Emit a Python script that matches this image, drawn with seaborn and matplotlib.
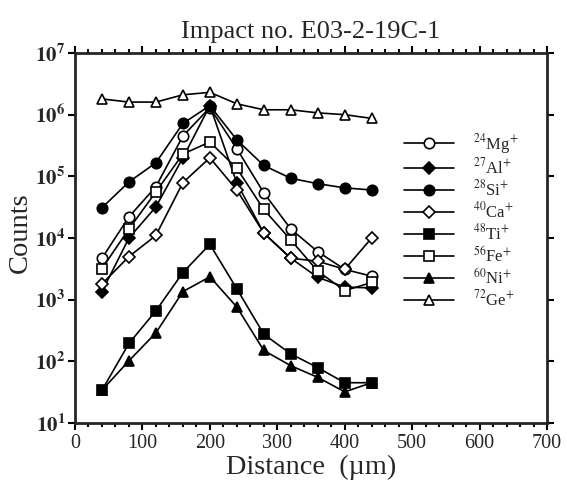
import math
import matplotlib
matplotlib.use("Agg")
import matplotlib.pyplot as plt
import matplotlib.ticker as mticker
import pandas as pd
import seaborn as sns

# distances (um) along the impact
distance = [40, 80, 120, 160, 200, 240, 280, 320, 360, 400, 440]

# counts, one list per ion
mg24 = [4.7e3, 2.2e4, 6.8e4, 4.5e5, 1.3e6, 2.8e5, 5.4e4, 1.4e4, 6.0e3, 3.1e3, 2.4e3]
al27 = [1.35e3, 1.0e4, 3.2e4, 2.0e5, 1.4e6, 7.8e4, 1.2e4, 4.7e3, 2.3e3, 1.6e3, 1.55e3]
si28 = [3.1e4, 8.1e4, 1.66e5, 7.2e5, 1.4e6, 3.9e5, 1.5e5, 9.3e4, 7.6e4, 6.5e4, 6.0e4]
ca40 = [1.8e3, 5.0e3, 1.1e4, 7.9e4, 2.0e5, 6.0e4, 1.2e4, 4.7e3, 4.2e3, 3.1e3, 1.0e4]
ti48 = [34, 195, 660, 2.75e3, 7.9e3, 1.5e3, 275, 132, 79, 45, 45]
fe56 = [3.2e3, 1.4e4, 5.6e4, 2.3e5, 3.6e5, 1.35e5, 2.9e4, 9.3e3, 2.9e3, 1.4e3, 1.9e3]
ni60 = [34, 102, 290, 1.35e3, 2.35e3, 760, 150, 85, 55, 32, 45]
ge72 = [1.8e6, 1.6e6, 1.6e6, 2.1e6, 2.3e6, 1.5e6, 1.2e6, 1.2e6, 1.07e6, 1.0e6, 0.87e6]

labels = [r"$^{24}$Mg$^{+}$", r"$^{27}$Al$^{+}$", r"$^{28}$Si$^{+}$", r"$^{40}$Ca$^{+}$",
          r"$^{48}$Ti$^{+}$", r"$^{56}$Fe$^{+}$", r"$^{60}$Ni$^{+}$", r"$^{72}$Ge$^{+}$"]
series = [mg24, al27, si28, ca40, ti48, fe56, ni60, ge72]
# marker, face colour, size
styles = [("o", "white", 7.5), ("D", "black", 6), ("o", "black", 7.5), ("D", "white", 6),
          ("s", "black", 7.5), ("s", "white", 7.5), ("^", "black", 7.5), ("^", "white", 7.5)]

sns.set_theme(style="ticks")
plt.rcParams["font.family"] = ["Liberation Serif", "DejaVu Serif"]
plt.rcParams["mathtext.fontset"] = "stix"

fig = plt.figure(figsize=(5.67, 4.84), dpi=100)
ax = fig.add_axes([75/567, 1-423/484, 472/567, 370/484])

for lab, vals, (mk, fc, ms) in zip(labels, series, styles):
    df = pd.DataFrame({"Distance": distance, "Counts": vals})
    sns.lineplot(data=df, x="Distance", y="Counts", ax=ax, color="black", lw=1.2,
                 marker=mk, markersize=ms, markerfacecolor=fc, markeredgecolor="black",
                 markeredgewidth=1.2, label=lab)

ax.set_yscale("log")
ax.set_xlim(0, 700)
ax.set_ylim(10, 1e7)
ax.xaxis.set_major_locator(mticker.MultipleLocator(100))
ax.xaxis.set_minor_locator(mticker.MultipleLocator(20))
ax.yaxis.set_major_locator(mticker.LogLocator(base=10, numticks=10))
ax.yaxis.set_minor_locator(mticker.NullLocator())
ax.yaxis.set_major_formatter(mticker.FuncFormatter(
    lambda v, p: r"$\mathbf{10^{%d}}$" % round(math.log10(v))))

for s in ax.spines.values():
    s.set_visible(True)
    s.set_linewidth(2)
ax.tick_params(which="both", direction="out", top=True, right=True, color="black")
ax.tick_params(which="major", length=5, width=1.5)
ax.tick_params(which="minor", length=3, width=1.5)
ax.tick_params(axis="x", labelsize=14.5, pad=3)
ax.tick_params(axis="y", labelsize=15, pad=2)

ax.set_xlabel("Distance  (µm)", fontsize=20.3, labelpad=1)
ax.set_ylabel("Counts", fontsize=20.5)
ax.yaxis.set_label_coords(-0.089, 0.514)
ax.set_title("Impact no. E03-2-19C-1", fontsize=19, pad=11)

ax.legend(loc="upper left", bbox_to_anchor=(0.68, 0.81), frameon=False, fontsize=12,
          handlelength=3.0, handletextpad=1.1, labelspacing=0.12, borderpad=0)

fig.savefig("out.png", dpi=100)
